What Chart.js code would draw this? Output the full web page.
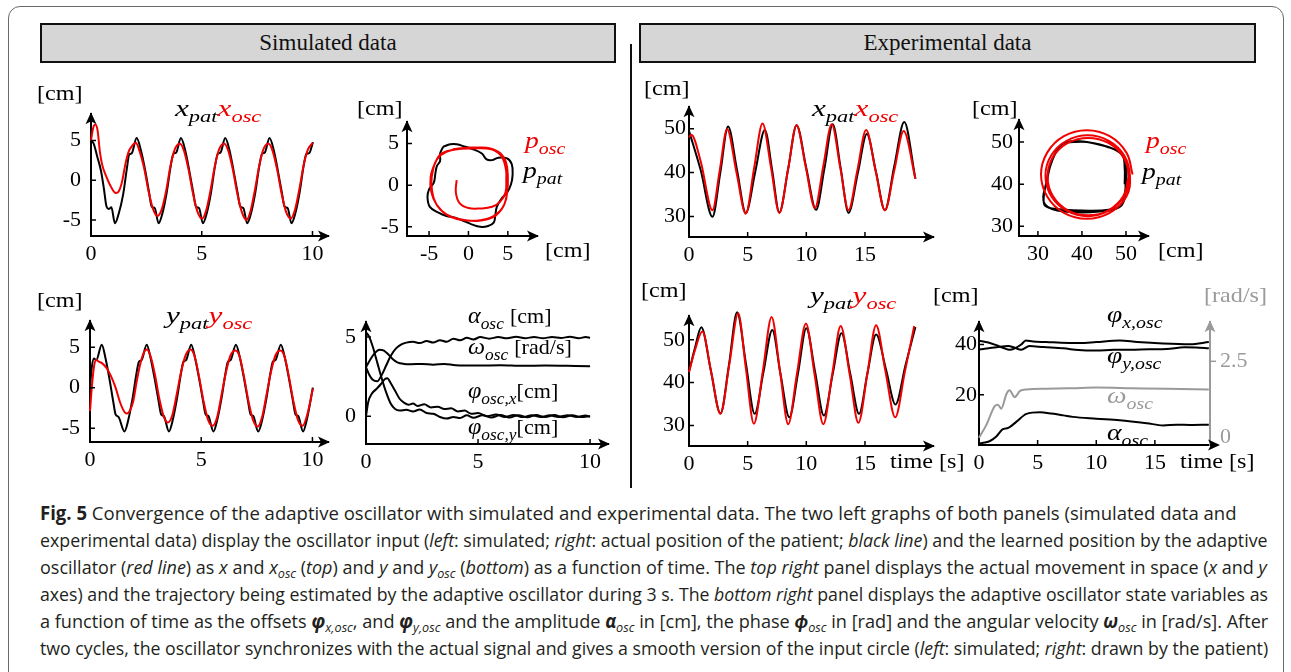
<!DOCTYPE html>
<html>
<head>
<meta charset="utf-8">
<script src="https://cdn.jsdelivr.net/npm/chart.js@4.4.1/dist/chart.umd.min.js"></script>
<style>
body { margin: 0; width: 1291px; height: 672px; background: #fff; position: relative; overflow: hidden; font-family: 'Liberation Serif', serif; }
.frame { position: absolute; left: 8px; top: 6px; width: 1276px; height: 720px; border: 1px solid #6a6a6a; border-radius: 12px; box-sizing: border-box; }
.head { position: absolute; top: 23px; height: 40px; box-sizing: border-box; background: #d6d6d6; border: 2px solid #111; font-size: 23px; line-height: 36px; text-align: center; color: #111; }
.divider { position: absolute; left: 630px; top: 44px; width: 2px; height: 444px; background: #111; }
canvas { position: absolute; }
.lbl { position: absolute; font-size: 21px; line-height: 1; white-space: nowrap; color: #000; z-index: 2; transform: scaleX(1.15); transform-origin: 0 0; }
.lbl.m { font-size: 23px; transform: scaleX(1.2); }
.lbl.t { font-size: 24px; transform: scaleX(1.3); }
.lbl.s { font-size: 23px; transform: scaleX(1.05); }
.lbl sub { font-size: 0.72em; vertical-align: -0.35em; line-height: 0; }
.red { color: #f00000; }
.gray { color: #9a9a9a; }
.cap { position: absolute; left: 40px; font-family: 'Liberation Sans Narrow', 'Open Sans', sans-serif; font-size: 19px; line-height: 1; white-space: nowrap; transform-origin: 0 50%; color: #231f20; }
.cap sub { font-size: 0.7em; vertical-align: -0.3em; line-height: 0; }
</style>
</head>
<body>
<div class="frame"></div>
<div class="head" style="left:40px;width:576px">Simulated data</div>
<div class="head" style="left:639px;width:617px">Experimental data</div>
<div class="divider"></div>

<!-- simulated, top row -->
<div class="lbl" style="left:37px;top:83px">[cm]</div>
<div class="lbl t" style="left:175px;top:96px"><i>x</i><sub><i>pat</i></sub><span class="red"><i>x</i><sub><i>osc</i></sub></span></div>
<div class="lbl" style="left:357px;top:98px">[cm]</div>
<div class="lbl" style="left:545px;top:240px">[cm]</div>
<div class="lbl m red" style="left:525px;top:129px"><i>p</i><sub><i>osc</i></sub></div>
<div class="lbl m" style="left:523px;top:159px"><i>p</i><sub><i>pat</i></sub></div>
<!-- simulated, bottom row -->
<div class="lbl" style="left:37px;top:290px">[cm]</div>
<div class="lbl t" style="left:166px;top:303px"><i>y</i><sub><i>pat</i></sub><span class="red"><i>y</i><sub><i>osc</i></sub></span></div>
<div class="lbl s" style="left:468px;top:304px"><i>α</i><sub><i>osc</i></sub> <span style="font-size:21px">[cm]</span></div>
<div class="lbl s" style="left:468px;top:335px"><i>ω</i><sub><i>osc</i></sub> <span style="font-size:21px">[rad/s]</span></div>
<div class="lbl s" style="left:468px;top:379px"><i>φ</i><sub><i>osc,x</i></sub><span style="font-size:21px">[cm]</span></div>
<div class="lbl s" style="left:468px;top:415px"><i>φ</i><sub><i>osc,y</i></sub><span style="font-size:21px">[cm]</span></div>
<!-- experimental, top row -->
<div class="lbl" style="left:644px;top:78px">[cm]</div>
<div class="lbl t" style="left:812px;top:96px"><i>x</i><sub><i>pat</i></sub><span class="red"><i>x</i><sub><i>osc</i></sub></span></div>
<div class="lbl" style="left:972px;top:98px">[cm]</div>
<div class="lbl" style="left:1158px;top:240px">[cm]</div>
<div class="lbl m red" style="left:1146px;top:129px"><i>p</i><sub><i>osc</i></sub></div>
<div class="lbl m" style="left:1142px;top:160px"><i>p</i><sub><i>pat</i></sub></div>
<!-- experimental, bottom row -->
<div class="lbl" style="left:641px;top:280px">[cm]</div>
<div class="lbl t" style="left:810px;top:283px"><i>y</i><sub><i>pat</i></sub><span class="red"><i>y</i><sub><i>osc</i></sub></span></div>
<div class="lbl" style="left:890px;top:451px">time [s]</div>
<div class="lbl" style="left:933px;top:285px">[cm]</div>
<div class="lbl gray" style="left:1204px;top:285px">[rad/s]</div>
<div class="lbl m" style="left:1107px;top:303px"><i>φ</i><sub><i>x,osc</i></sub></div>
<div class="lbl m" style="left:1107px;top:344px"><i>φ</i><sub><i>y,osc</i></sub></div>
<div class="lbl m gray" style="left:1107px;top:384px"><i>ω</i><sub><i>osc</i></sub></div>
<div class="lbl m" style="left:1107px;top:421px"><i>α</i><sub><i>osc</i></sub></div>
<div class="lbl" style="left:1180px;top:451px">time [s]</div>

<div class="cap" style="top:504px" data-w="1197"><b>Fig. 5</b> Convergence of the adaptive oscillator with simulated and experimental data. The two left graphs of both panels (simulated data and</div>
<div class="cap" style="top:531px" data-w="1228">experimental data) display the oscillator input (<i>left</i>: simulated; <i>right</i>: actual position of the patient; <i>black line</i>) and the learned position by the adaptive</div>
<div class="cap" style="top:558px" data-w="1227">oscillator (<i>red line</i>) as <i>x</i> and <i>x</i><sub><i>osc</i></sub> (<i>top</i>) and <i>y</i> and <i>y</i><sub><i>osc</i></sub> (<i>bottom</i>) as a function of time. The <i>top right</i> panel displays the actual movement in space (<i>x</i> and <i>y</i></div>
<div class="cap" style="top:585px" data-w="1228">axes) and the trajectory being estimated by the adaptive oscillator during 3 s. The <i>bottom right</i> panel displays the adaptive oscillator state variables as</div>
<div class="cap" style="top:612px" data-w="1228">a function of time as the offsets <b><i>φ</i></b><sub><i>x,osc</i></sub>, and <b><i>φ</i></b><sub><i>y,osc</i></sub> and the amplitude <b><i>α</i></b><sub><i>osc</i></sub> in [cm], the phase <b><i>ϕ</i></b><sub><i>osc</i></sub> in [rad] and the angular velocity <b><i>ω</i></b><sub><i>osc</i></sub> in [rad/s]. After</div>
<div class="cap" style="top:639px" data-w="1228">two cycles, the oscillator synchronizes with the actual signal and gives a smooth version of the input circle (<i>left</i>: simulated; <i>right</i>: drawn by the patient)</div>

<script>
// ---- data ([t, value] or [x, y] pairs) ----

// simulated x(t)
const simXPat = [[0,5.0],[0.12,4.6],[0.28,3.0],[0.45,1.2],[0.58,-1.0],[0.70,-3.3],[0.80,-3.6],[0.92,-3.4],[1.08,-5.4],[1.25,-4.2],[1.45,-1.8],[1.62,1.5],[1.72,3.2],[1.84,3.4],[2.06,5.3],[2.25,3.8],[2.45,1.2],[2.62,-1.5],[2.74,-3.3],[2.88,-3.5],[3.05,-5.4],[3.22,-4.2],[3.42,-1.5],[3.60,1.8],[3.72,3.3],[3.85,3.5],[4.06,5.3],[4.25,3.8],[4.45,1.0],[4.62,-1.6],[4.74,-3.3],[4.88,-3.5],[5.05,-5.4],[5.22,-4.2],[5.42,-1.5],[5.60,1.8],[5.72,3.3],[5.85,3.5],[6.06,5.3],[6.25,3.8],[6.45,1.0],[6.62,-1.6],[6.74,-3.3],[6.88,-3.5],[7.05,-5.4],[7.22,-4.2],[7.42,-1.5],[7.60,1.8],[7.72,3.3],[7.85,3.5],[8.06,5.3],[8.25,3.8],[8.45,1.0],[8.62,-1.6],[8.74,-3.3],[8.88,-3.5],[9.05,-5.4],[9.22,-4.2],[9.42,-1.5],[9.60,1.8],[9.72,3.3],[9.85,3.4],[10.02,4.8]];
const simXOsc = [[0,5.0],[0.10,6.6],[0.20,7.0],[0.30,6.2],[0.40,3.6],[0.50,2.0],[0.70,0.4],[0.90,-0.8],[1.12,-1.6],[1.25,-1.4],[1.40,-0.2],[1.55,2.0],[1.70,3.6],[1.85,4.3],[2.02,4.7],[2.20,3.6],[2.40,1.5],[2.60,-1.4],[2.80,-3.6],[3.00,-4.5],[3.20,-3.6],[3.40,-1.2],[3.60,2.0],[3.80,4.0],[4.02,4.6],[4.20,3.7],[4.40,1.4],[4.60,-1.6],[4.80,-3.9],[5.02,-4.8],[5.20,-3.8],[5.40,-1.2],[5.60,1.9],[5.80,4.0],[6.02,4.6],[6.20,3.7],[6.40,1.4],[6.60,-1.6],[6.80,-3.9],[7.02,-5.0],[7.20,-3.9],[7.40,-1.2],[7.60,1.9],[7.80,4.0],[8.02,4.6],[8.20,3.7],[8.40,1.4],[8.60,-1.6],[8.80,-3.9],[9.02,-4.8],[9.20,-3.8],[9.40,-1.2],[9.60,1.9],[9.80,3.9],[10.02,4.7]];

// simulated trajectory in the plane
const simTrajPat = [[-3.2,4.6],[-2.3,4.9],[-1.5,4.9],[-0.4,4.6],[0.6,4.3],[1.7,3.8],[2.3,3.1],[3.0,3.0],[3.8,3.3],[4.9,3.2],[5.5,2.5],[5.6,1.2],[5.4,0.1],[4.9,-0.9],[4.2,-1.6],[3.6,-2.6],[3.4,-3.7],[3.2,-4.5],[2.5,-4.9],[1.5,-5.0],[0.4,-4.7],[-0.6,-4.3],[-1.7,-3.9],[-2.8,-3.7],[-3.8,-3.3],[-4.9,-2.6],[-5.2,-1.4],[-5.0,-0.5],[-4.4,0.3],[-4.2,1.4],[-4.0,2.3],[-3.6,2.9],[-3.6,3.8],[-3.2,4.6]];
const simTrajOsc = [[-1.5,0.6],[-1.6,-0.9],[-1.1,-2.2],[0,-2.75],[1.5,-2.8],[3.0,-2.6],[4.0,-2.0],[4.7,-0.9],[4.8,0.6],[4.7,2.5],[4.0,3.8],[2.8,4.4],[1.1,4.5],[-0.6,4.4],[-2.8,4.0],[-4.0,3.1],[-4.5,1.8],[-4.7,0.3],[-4.4,-1.6],[-3.6,-2.9],[-2.3,-3.8],[-0.6,-4.2],[1.5,-4.2],[3.2,-3.7],[4.4,-2.6],[4.9,-0.9],[5.0,1.0],[4.7,2.9],[3.8,4.0],[2.3,4.4],[0.6,4.4],[-1.5,4.3],[-3.4,3.8],[-4.2,2.7],[-4.8,1.0],[-4.7,-0.9],[-4.0,-2.4],[-2.8,-3.5],[-1.1,-4.1],[1.1,-4.3],[3.0,-3.9],[4.2,-2.9],[4.8,-1.6],[4.9,-0.1],[4.8,1.6],[4.3,3.3],[3.2,4.2],[1.6,4.5],[0.0,4.5],[-2.0,4.3]];

// simulated y(t)
const simYPat = [[0,0.0],[0.08,2.5],[0.18,3.6],[0.28,3.4],[0.53,5.3],[0.70,3.6],[0.88,1.0],[1.05,-1.8],[1.15,-3.3],[1.28,-3.6],[1.55,-5.4],[1.72,-4.0],[1.92,-1.2],[2.08,1.6],[2.20,3.2],[2.32,3.4],[2.55,5.3],[2.72,3.7],[2.92,0.9],[3.08,-1.6],[3.20,-3.3],[3.32,-3.5],[3.55,-5.4],[3.72,-4.0],[3.92,-1.2],[4.08,1.6],[4.20,3.2],[4.32,3.4],[4.55,5.3],[4.72,3.7],[4.92,0.9],[5.08,-1.6],[5.20,-3.3],[5.32,-3.5],[5.55,-5.4],[5.72,-4.0],[5.92,-1.2],[6.08,1.6],[6.20,3.2],[6.32,3.4],[6.56,5.3],[6.74,3.7],[6.94,0.9],[7.10,-1.6],[7.22,-3.3],[7.34,-3.5],[7.56,-5.4],[7.74,-4.0],[7.94,-1.2],[8.10,1.6],[8.22,3.2],[8.34,3.4],[8.58,5.3],[8.76,3.7],[8.96,0.9],[9.12,-1.6],[9.24,-3.3],[9.36,-3.5],[9.58,-5.4],[9.76,-3.8],[10.02,0.0]];
const simYOsc = [[0,-2.9],[0.08,0.0],[0.18,2.6],[0.28,3.4],[0.40,3.2],[0.55,3.0],[0.75,2.4],[0.95,1.4],[1.15,0.0],[1.35,-1.8],[1.55,-3.0],[1.65,-3.2],[1.80,-2.8],[1.95,-1.6],[2.10,0.8],[2.25,2.8],[2.40,4.2],[2.55,4.7],[2.72,3.9],[2.92,1.6],[3.12,-1.4],[3.32,-3.6],[3.50,-4.3],[3.70,-3.4],[3.90,-0.8],[4.10,2.0],[4.30,4.0],[4.52,4.7],[4.70,3.9],[4.90,1.4],[5.10,-1.6],[5.30,-3.9],[5.52,-4.7],[5.72,-3.6],[5.92,-0.8],[6.12,2.0],[6.32,4.0],[6.54,4.6],[6.72,3.9],[6.92,1.4],[7.12,-1.6],[7.32,-3.9],[7.54,-4.8],[7.74,-3.6],[7.94,-0.8],[8.14,2.0],[8.34,4.0],[8.56,4.6],[8.74,3.9],[8.94,1.4],[9.14,-1.6],[9.34,-3.9],[9.56,-4.7],[9.78,-3.2],[10.02,-0.1]];

// simulated oscillator state variables
const simAlpha = [[0,3.1],[0.15,2.6],[0.3,2.3],[0.5,2.2],[0.7,2.6],[0.9,3.2],[1.1,3.8],[1.35,4.3],[1.6,4.55],[1.8,4.65],[2.1,4.7],[2.4,4.62],[2.7,4.75],[3.0,4.65],[3.3,4.8],[3.6,4.7],[3.9,4.9],[4.2,4.8],[4.5,4.95],[4.8,4.85],[5.1,5.0],[5.5,4.9],[5.9,5.0],[6.3,4.92],[6.7,5.02],[7.1,4.93],[7.5,5.0],[7.9,4.93],[8.3,5.0],[8.7,4.94],[9.1,5.02],[9.5,4.93],[9.8,5.0],[10.0,4.96]];
const simOmega = [[0,3.1],[0.2,3.6],[0.4,4.0],[0.6,4.2],[0.8,4.15],[1.0,3.9],[1.2,3.6],[1.4,3.4],[1.7,3.3],[2.0,3.28],[2.5,3.3],[3.0,3.25],[3.5,3.3],[4.0,3.22],[5.0,3.2],[6.0,3.22],[7.0,3.18],[8.0,3.2],[9.0,3.18],[10.0,3.16]];
const simPhiX = [[0,5.3],[0.15,5.0],[0.3,4.4],[0.5,3.4],[0.7,2.4],[0.9,1.5],[1.1,0.8],[1.3,0.45],[1.5,0.35],[1.8,0.4],[2.1,0.3],[2.4,0.42],[2.7,0.2],[3.0,0.15],[3.3,-0.05],[3.6,-0.15],[3.9,-0.05],[4.2,-0.12],[4.5,0.05],[4.8,-0.1],[5.2,0.06],[5.6,-0.08],[6.0,0.07],[6.4,-0.08],[6.8,0.06],[7.2,-0.07],[7.6,0.07],[8.0,-0.06],[8.4,0.07],[8.8,-0.07],[9.2,0.06],[9.6,-0.06],[10.0,0.0]];
const simPhiY = [[0,0.0],[0.1,0.9],[0.25,1.4],[0.45,1.7],[0.65,2.0],[0.85,2.35],[0.95,2.4],[1.1,2.1],[1.3,1.6],[1.5,1.1],[1.7,0.85],[1.9,0.72],[2.1,0.8],[2.3,0.65],[2.6,0.75],[2.9,0.55],[3.2,0.6],[3.5,0.45],[3.8,0.5],[4.1,0.3],[4.4,0.35],[4.7,0.15],[5.0,0.2],[5.4,0.0],[5.8,0.1],[6.2,-0.05],[6.6,0.08],[7.0,-0.06],[7.4,0.06],[7.8,-0.06],[8.2,0.05],[8.6,-0.05],[9.0,0.06],[9.4,-0.05],[9.8,0.04],[10.0,-0.02]];

// experimental x(t)
const expXPat = [[0,49.5],[1.0,40.5],[2.0,29.9],[2.67,40.0],[3.33,50.5],[4.1,40.5],[4.84,30.8],[5.65,40.2],[6.47,49.7],[7.1,40.3],[7.7,30.9],[8.45,40.8],[9.17,50.8],[10.0,41.0],[10.83,31.5],[11.55,41.0],[12.25,51.0],[12.93,41.0],[13.6,30.8],[14.4,40.0],[15.16,48.8],[15.95,40.0],[16.7,31.4],[17.5,41.5],[18.35,51.5],[19.3,38.6]];
const expXOsc = [[0,48.0],[0.2,48.6],[1.0,42.5],[2.0,31.4],[2.62,40.5],[3.25,49.9],[4.05,40.0],[4.84,30.6],[5.55,41.0],[6.27,51.2],[7.0,41.0],[7.7,30.8],[8.45,40.8],[9.17,50.8],[9.95,41.3],[10.74,31.9],[11.45,41.5],[12.17,51.0],[12.9,41.0],[13.6,31.4],[14.35,40.5],[15.1,49.7],[15.9,40.5],[16.7,31.4],[17.5,40.5],[18.3,49.5],[19.3,38.6]];

// experimental trajectory in the plane
const expTrajPat = [[49.7,40.0],[49.7,44.0],[49.1,47.0],[45.7,48.9],[41.1,50.0],[38.1,50.0],[35.5,49.6],[33.9,47.3],[32.8,44.7],[31.9,40.5],[31.3,36.7],[31.7,34.8],[34.3,34.1],[41.9,33.7],[46.5,34.0],[48.7,34.8],[49.6,37.0],[50.0,40.5],[50.1,44.5],[49.4,46.8],[47.2,48.4],[43.5,49.5],[39.5,50.2],[36.5,50.0],[35.0,49.0],[33.8,47.0],[32.7,44.0],[32.0,40.5],[31.2,37.0],[31.6,35.2],[33.2,34.1],[36.0,33.5],[40.0,33.3],[44.0,33.5],[47.2,34.0],[49.0,35.0],[49.8,37.2],[49.9,40.0]];
const expTrajOsc = [[51.5,42.3],[50.1,47.5],[46.3,51.4],[41.1,52.8],[35.9,51.4],[32.1,47.5],[30.7,42.3],[32.1,37.1],[35.9,33.2],[41.1,31.8],[46.3,33.2],[50.1,37.1],[50.9,42.0],[49.6,46.8],[46.1,50.3],[41.3,51.6],[36.5,50.3],[33.0,46.8],[31.7,42.0],[33.0,37.2],[36.5,33.7],[41.3,32.4],[46.1,33.7],[49.6,37.2],[50.6,41.8],[49.4,46.4],[46.0,49.8],[41.4,51.0],[36.8,49.8],[33.4,46.4],[32.2,41.8],[33.4,37.2],[36.8,33.8],[41.4,32.6],[46.0,33.8],[49.4,37.2],[50.6,41.8]];

// experimental y(t)
const expYPat = [[0,42.5],[0.5,48.0],[1.05,52.9],[1.85,43.0],[2.68,32.8],[3.4,44.0],[4.1,56.4],[4.85,44.5],[5.6,32.7],[6.35,42.5],[7.1,52.3],[7.8,42.0],[8.55,31.9],[9.3,42.3],[10.0,52.7],[10.75,42.5],[11.5,32.3],[12.25,42.0],[13.0,51.5],[13.75,42.0],[14.5,32.7],[15.2,42.0],[15.95,51.2],[16.8,43.0],[17.6,34.9],[18.45,44.0],[19.3,53.0]];
const expYOsc = [[0,42.5],[0.5,47.5],[1.14,51.9],[1.9,42.3],[2.68,32.7],[3.45,44.5],[4.19,56.2],[4.85,43.3],[5.53,30.4],[6.3,42.8],[7.04,55.3],[7.75,42.8],[8.46,30.3],[9.2,42.0],[9.97,53.8],[10.7,42.0],[11.45,30.3],[12.2,41.8],[12.93,53.2],[13.7,41.9],[14.44,30.6],[15.2,42.0],[15.95,53.4],[16.75,42.6],[17.58,31.9],[18.4,42.5],[19.2,53.2]];

// experimental oscillator state variables
const expPhiX = [[0,41.5],[0.8,40.8],[1.5,39.7],[2.1,38.6],[2.6,37.9],[3.1,38.6],[3.6,40.0],[4.0,41.6],[4.6,41.2],[5.75,41.0],[7.0,40.7],[8.6,40.6],[10.0,41.0],[12.0,41.6],[13.5,41.0],[15.7,40.4],[18.0,40.1],[19.6,41.0]];
const expPhiY = [[0,38.0],[1.5,38.9],[2.5,39.4],[3.0,38.8],[3.6,37.9],[4.3,39.4],[5.5,39.0],[7.2,38.5],[8.5,37.8],[10.0,37.6],[11.5,37.9],[12.9,37.9],[14.5,38.1],[16.0,38.2],[17.5,38.9],[18.5,38.8],[19.6,38.5]];
const expOmega = [[0,0],[0.63,0.42],[1.34,1.03],[1.62,1.08],[1.9,0.95],[2.34,1.43],[2.6,1.55],[3.05,1.33],[3.5,1.53],[4.05,1.58],[5.75,1.6],[8.0,1.62],[10.0,1.64],[13.0,1.62],[16.0,1.6],[19.6,1.58]];
const expAlpha = [[0,0.6],[0.5,1.0],[0.9,1.5],[1.5,3.5],[2.0,6.2],[2.5,6.8],[3.2,9.3],[4.05,12.4],[5.2,13.0],[6.2,12.5],[7.2,11.8],[8.0,11.2],[10.0,10.5],[12.0,9.9],[14.3,8.7],[15.7,7.8],[16.9,8.1],[18.0,8.0],[19.6,8.1]];

// tick labels
const ticksSimTime = [0, 5, 10];
const ticksSimCm = [-5, 0, 5];
const ticksSimState = [0, 5];
const ticksExpTime = [0, 5, 10, 15];
const ticksExpCm = [30, 40, 50];
const ticksExpPlane = [30, 40, 50];
const ticksExpState = [20, 40];
const ticksRad = [0, 2.5];

// ---- drawing ----
const SERIF = "'Liberation Serif', serif";
const RED = '#f00000', BLACK = '#000', GRAY = '#9a9a9a';
const pts = arr => arr.map(([x, y]) => ({x, y}));

function arrowHead(ctx, x, y, up) {
    ctx.save();
    ctx.translate(x, y);
    if (up) ctx.rotate(-Math.PI / 2);
    ctx.beginPath();
    ctx.moveTo(2, 0);
    ctx.lineTo(-10, -5.5);
    ctx.lineTo(-7, 0);
    ctx.lineTo(-10, 5.5);
    ctx.closePath();
    ctx.fill();
    ctx.restore();
}

// arrow heads on the axes and short inward ticks
const axisDeco = {
    id: 'axisDeco',
    afterDraw(chart, args, opts) {
        const {ctx, chartArea: a, scales} = chart;
        ctx.save();
        ctx.lineWidth = 2;
        ctx.strokeStyle = ctx.fillStyle = BLACK;
        const xEnd = a.right + (opts.xExtra || 0);
        ctx.beginPath();
        ctx.moveTo(a.right, a.bottom);
        ctx.lineTo(xEnd, a.bottom);
        ctx.stroke();
        arrowHead(ctx, xEnd, a.bottom, false);
        arrowHead(ctx, a.left, a.top, true);
        ctx.lineWidth = 1.5;
        ctx.beginPath();
        scales.x.ticks.forEach(t => {
            const p = scales.x.getPixelForValue(t.value);
            ctx.moveTo(p, a.bottom);
            ctx.lineTo(p, a.bottom - 5);
        });
        scales.y.ticks.forEach(t => {
            const p = scales.y.getPixelForValue(t.value);
            ctx.moveTo(a.left, p);
            ctx.lineTo(a.left + 5, p);
        });
        ctx.stroke();
        if (scales.y2) {
            ctx.strokeStyle = ctx.fillStyle = GRAY;
            arrowHead(ctx, a.right, a.top, true);
            ctx.beginPath();
            scales.y2.ticks.forEach(t => {
                const p = scales.y2.getPixelForValue(t.value);
                if (t.value !== 0) {
                    ctx.moveTo(a.right, p);
                    ctx.lineTo(a.right + 6, p);
                }
            });
            ctx.stroke();
        }
        ctx.restore();
    }
};

function axis(o, horiz, size, color) {
    return {
        type: 'linear',
        position: o.position,
        min: o.min,
        max: o.max,
        afterBuildTicks: s => { s.ticks = o.ticks.map(v => ({value: v})); },
        afterFit: s => { if (horiz) s.height = size; else s.width = size; },
        grid: {display: false, drawTicks: false},
        border: {display: true, color: color, width: 2},
        ticks: {font: {family: SERIF, size: 22}, color: color, padding: o.pad, autoSkip: false, maxRotation: 0, callback: v => String(v)}
    };
}

function line(data, color, smooth, yAxisID) {
    return {
        data: pts(data),
        borderColor: color,
        borderWidth: 2,
        pointRadius: 0,
        fill: false,
        clip: false,
        yAxisID: yAxisID || 'y',
        cubicInterpolationMode: smooth === 'loop' ? 'default' : 'monotone',
        tension: 0.4
    };
}

// area = chart area in page pixels (left, right, top, bottom)
function makePanel(area, cfg) {
    const mL = 50, mT = 14, mR = cfg.y2 ? 50 : 16, mB = 36;
    const w = area.r - area.l + mL + mR, h = area.b - area.t + mT + mB;
    const cv = document.createElement('canvas');
    cv.width = w;
    cv.height = h;
    cv.style.left = (area.l - mL) + 'px';
    cv.style.top = (area.t - mT) + 'px';
    cv.style.width = w + 'px';
    cv.style.height = h + 'px';
    document.body.appendChild(cv);
    const scales = {
        x: axis(Object.assign({position: 'bottom', pad: 5}, cfg.x), true, mB, BLACK),
        y: axis(Object.assign({position: 'left'}, cfg.y), false, mL, BLACK)
    };
    if (cfg.y2) scales.y2 = axis(Object.assign({position: 'right'}, cfg.y2), false, mR, GRAY);
    new Chart(cv, {
        type: 'line',
        data: {datasets: cfg.datasets},
        options: {
            responsive: false,
            animation: false,
            devicePixelRatio: 1,
            layout: {padding: {top: mT, right: cfg.y2 ? 0 : mR, left: 0, bottom: 0}},
            plugins: {legend: {display: false}, tooltip: {enabled: false}, axisDeco: {xExtra: cfg.xExtra || 0}},
            scales: scales
        },
        plugins: [axisDeco]
    });
}

function buildAll() {
    // simulated x(t)
    makePanel({l: 91, r: 328, t: 105, b: 236}, {
        x: {min: 0, max: 10.7, ticks: ticksSimTime},
        y: {min: -7, max: 8.3, ticks: ticksSimCm, pad: 10},
        datasets: [line(simXOsc, RED), line(simXPat, BLACK)]
    });
    // simulated trajectory
    makePanel({l: 407, r: 537, t: 115, b: 236}, {
        x: {min: -7.8, max: 8.7, ticks: ticksSimCm},
        y: {min: -6.1, max: 7.55, ticks: ticksSimCm, pad: 8},
        datasets: [line(simTrajOsc, RED, 'loop'), line(simTrajPat, BLACK, 'loop')]
    });
    // simulated y(t)
    makePanel({l: 90, r: 328, t: 312, b: 442}, {
        x: {min: 0, max: 10.7, ticks: ticksSimTime},
        y: {min: -6.7, max: 8.2, ticks: ticksSimCm, pad: 10},
        datasets: [line(simYOsc, RED), line(simYPat, BLACK)]
    });
    // simulated state variables
    makePanel({l: 366, r: 608, t: 313, b: 444}, {
        x: {min: 0, max: 10.8, ticks: ticksSimTime},
        y: {min: -1.76, max: 5.94, ticks: ticksSimState, pad: 10},
        datasets: [line(simAlpha, BLACK), line(simOmega, BLACK), line(simPhiX, BLACK), line(simPhiY, BLACK)]
    });
    // experimental x(t)
    makePanel({l: 689, r: 933, t: 105, b: 237}, {
        x: {min: 0, max: 20.8, ticks: ticksExpTime},
        y: {min: 25.3, max: 54.9, ticks: ticksExpCm, pad: 3},
        datasets: [line(expXOsc, RED), line(expXPat, BLACK)]
    });
    // experimental trajectory
    makePanel({l: 1019, r: 1148, t: 115, b: 236}, {
        x: {min: 25.7, max: 55, ticks: ticksExpPlane},
        y: {min: 27.7, max: 55.2, ticks: ticksExpPlane, pad: 6},
        datasets: [line(expTrajOsc, RED, 'loop'), line(expTrajPat, BLACK, 'loop')]
    });
    // experimental y(t)
    makePanel({l: 689, r: 933, t: 313, b: 446}, {
        x: {min: 0, max: 20.8, ticks: ticksExpTime},
        y: {min: 25.2, max: 55.5, ticks: ticksExpCm, pad: 4},
        datasets: [line(expYOsc, RED), line(expYPat, BLACK)]
    });
    // experimental state variables
    makePanel({l: 979, r: 1210, t: 313, b: 445}, {
        x: {min: 0, max: 19.7, ticks: ticksExpTime},
        y: {min: 0, max: 48.9, ticks: ticksExpState, pad: 2},
        y2: {min: -0.24, max: 3.78, ticks: ticksRad, pad: 10},
        xExtra: 8,
        datasets: [line(expPhiX, BLACK), line(expPhiY, BLACK), line(expAlpha, BLACK), line(expOmega, GRAY, null, 'y2')]
    });
}

// stretch each caption line to the width it has in the figure
document.querySelectorAll('.cap').forEach(el => {
    const target = +el.dataset.w;
    el.style.transform = 'scaleX(' + (target / el.scrollWidth) + ')';
});

// the canvas only picks up the serif face once it is loaded
document.fonts.load("22px 'Liberation Serif'").then(buildAll, buildAll);
</script>
</body>
</html>
